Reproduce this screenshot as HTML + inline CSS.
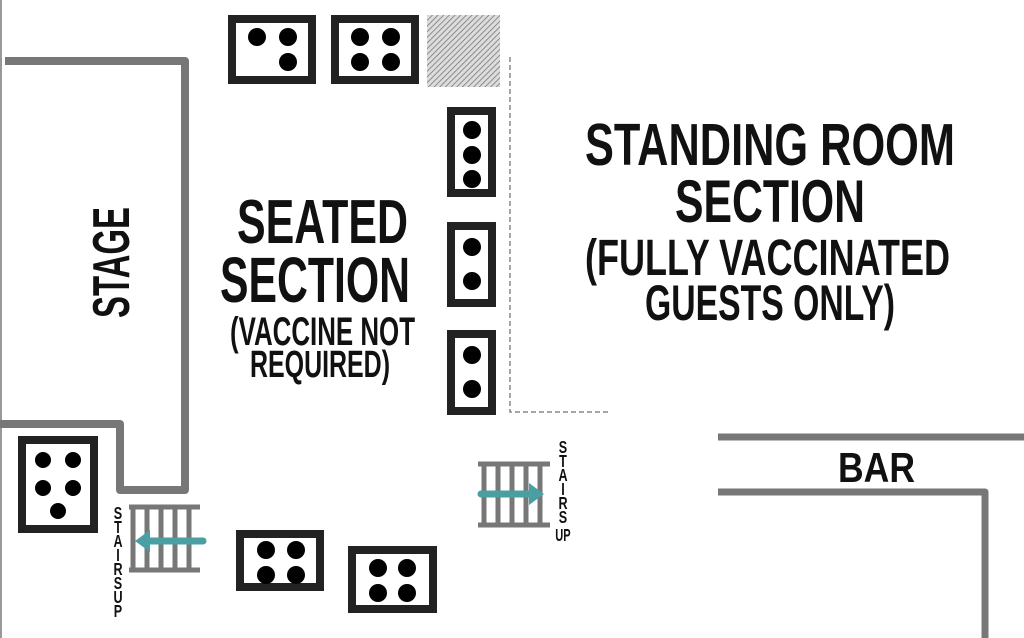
<!DOCTYPE html>
<html><head><style>
html,body{margin:0;padding:0;background:#fff;}
svg{display:block;}
text{font-family:"Liberation Sans Narrow","Liberation Sans",sans-serif;font-weight:bold;fill:#111;}
</style></head><body>
<svg width="1024" height="638" viewBox="0 0 1024 638" xmlns="http://www.w3.org/2000/svg">
<defs>
<pattern id="h" width="4" height="4" patternUnits="userSpaceOnUse" patternTransform="rotate(45)">
<rect width="4" height="4" fill="#ddd"/><line x1="0" y1="0" x2="0" y2="4" stroke="#777" stroke-width="1.6"/>
</pattern>
</defs>
<rect width="1024" height="638" fill="#fff"/>
<line x1="1" y1="0" x2="1" y2="638" stroke="#999" stroke-width="2"/>
<polyline points="5,61 185,61 185,490 120,490 120,424 0,424" fill="none" stroke="#777" stroke-width="8" stroke-linejoin="round"/>
<text x="0" y="0" font-size="52" transform="translate(129,318) rotate(-90)" textLength="111" lengthAdjust="spacingAndGlyphs">STAGE</text>

<g fill="#fff" stroke="#222" stroke-width="8">
<rect x="22" y="440" width="72" height="89"/>
<rect x="232" y="19" width="80" height="61"/>
<rect x="335" y="19" width="80" height="61"/>
<rect x="451" y="111" width="41" height="82"/>
<rect x="451" y="226" width="41" height="77"/>
<rect x="451" y="334" width="41" height="77"/>
<rect x="240" y="534" width="80" height="53"/>
<rect x="352" y="550" width="81" height="59"/>
</g>
<rect x="427" y="15" width="73" height="72" fill="url(#h)"/>
<g fill="#000">
<circle cx="43" cy="460" r="8"/><circle cx="73" cy="460" r="8"/>
<circle cx="43" cy="488" r="8"/><circle cx="73" cy="488" r="8"/><circle cx="58" cy="511" r="8"/>
<circle cx="257" cy="37" r="9"/><circle cx="288" cy="37" r="9"/><circle cx="288" cy="62" r="9"/>
<circle cx="360" cy="37" r="9"/><circle cx="391" cy="37" r="9"/><circle cx="360" cy="62" r="9"/><circle cx="391" cy="62" r="9"/>
<circle cx="472" cy="130" r="9"/><circle cx="472" cy="155" r="9"/><circle cx="472" cy="179" r="9"/>
<circle cx="472" cy="247" r="9"/><circle cx="472" cy="281" r="9"/>
<circle cx="472" cy="355" r="9"/><circle cx="472" cy="389" r="9"/>
<circle cx="266" cy="550" r="9"/><circle cx="296" cy="550" r="9"/><circle cx="266" cy="575" r="9"/><circle cx="296" cy="575" r="9"/>
<circle cx="378" cy="568" r="9"/><circle cx="407" cy="568" r="9"/><circle cx="378" cy="593" r="9"/><circle cx="407" cy="593" r="9"/>
</g>

<polyline points="510,57 510,412 610,412" fill="none" stroke="#888" stroke-width="1.5" stroke-dasharray="5,3"/>

<g stroke="#777" stroke-width="5" fill="none">
<line x1="129" y1="507" x2="200" y2="507"/><line x1="129" y1="570" x2="200" y2="570"/>
<line x1="133" y1="507" x2="133" y2="570"/><line x1="147" y1="507" x2="147" y2="570"/>
<line x1="161" y1="507" x2="161" y2="570"/><line x1="175" y1="507" x2="175" y2="570"/>
<line x1="189" y1="507" x2="189" y2="570"/>
</g>
<line x1="203" y1="541" x2="148" y2="541" stroke="#4a9fa3" stroke-width="7" stroke-linecap="round"/>
<polygon points="135,541 150,530 150,552" fill="#4a9fa3"/>

<g stroke="#777" stroke-width="5" fill="none">
<line x1="478" y1="464" x2="550" y2="464"/><line x1="478" y1="525" x2="550" y2="525"/>
<line x1="484" y1="464" x2="484" y2="525"/><line x1="498" y1="464" x2="498" y2="525"/>
<line x1="512" y1="464" x2="512" y2="525"/><line x1="526" y1="464" x2="526" y2="525"/>
<line x1="540" y1="464" x2="540" y2="525"/>
</g>
<line x1="481" y1="494" x2="530" y2="494" stroke="#4a9fa3" stroke-width="7" stroke-linecap="round"/>
<polygon points="544,494 529,483 529,505" fill="#4a9fa3"/>

<g font-size="18" text-anchor="middle">
<g transform="translate(118,0) scale(0.7,1)">
<text x="0" y="519">S</text><text x="0" y="533">T</text><text x="0" y="547">A</text><text x="0" y="561">I</text><text x="0" y="575">R</text><text x="0" y="589">S</text>
<text x="0" y="603">U</text><text x="0" y="617">P</text>
</g>
<g transform="translate(563,0) scale(0.7,1)">
<text x="0" y="453">S</text><text x="0" y="467">T</text><text x="0" y="481">A</text><text x="0" y="495">I</text><text x="0" y="509">R</text><text x="0" y="523">S</text>
<text x="0" y="541" textLength="22" lengthAdjust="spacingAndGlyphs">UP</text>
</g>
</g>

<polyline points="718,437 1024,437" fill="none" stroke="#777" stroke-width="7"/>
<polyline points="718,492 985,492 985,638" fill="none" stroke="#777" stroke-width="7" stroke-linejoin="round"/>
<text x="838" y="482" font-size="42" textLength="77" lengthAdjust="spacingAndGlyphs">BAR</text>

<text x="237" y="243" font-size="62" textLength="171" lengthAdjust="spacingAndGlyphs">SEATED</text>
<text x="220" y="302" font-size="64" textLength="190" lengthAdjust="spacingAndGlyphs">SECTION</text>
<text x="230" y="345" font-size="40" textLength="185" lengthAdjust="spacingAndGlyphs">(VACCINE NOT</text>
<text x="250" y="377" font-size="38" textLength="140" lengthAdjust="spacingAndGlyphs">REQUIRED)</text>

<text x="585" y="165" font-size="59" textLength="370" lengthAdjust="spacingAndGlyphs">STANDING ROOM</text>
<text x="675" y="222" font-size="60" textLength="190" lengthAdjust="spacingAndGlyphs">SECTION</text>
<text x="585" y="275" font-size="51" textLength="365" lengthAdjust="spacingAndGlyphs">(FULLY VACCINATED</text>
<text x="645" y="320" font-size="50" textLength="250" lengthAdjust="spacingAndGlyphs">GUESTS ONLY)</text>
</svg>
</body></html>
